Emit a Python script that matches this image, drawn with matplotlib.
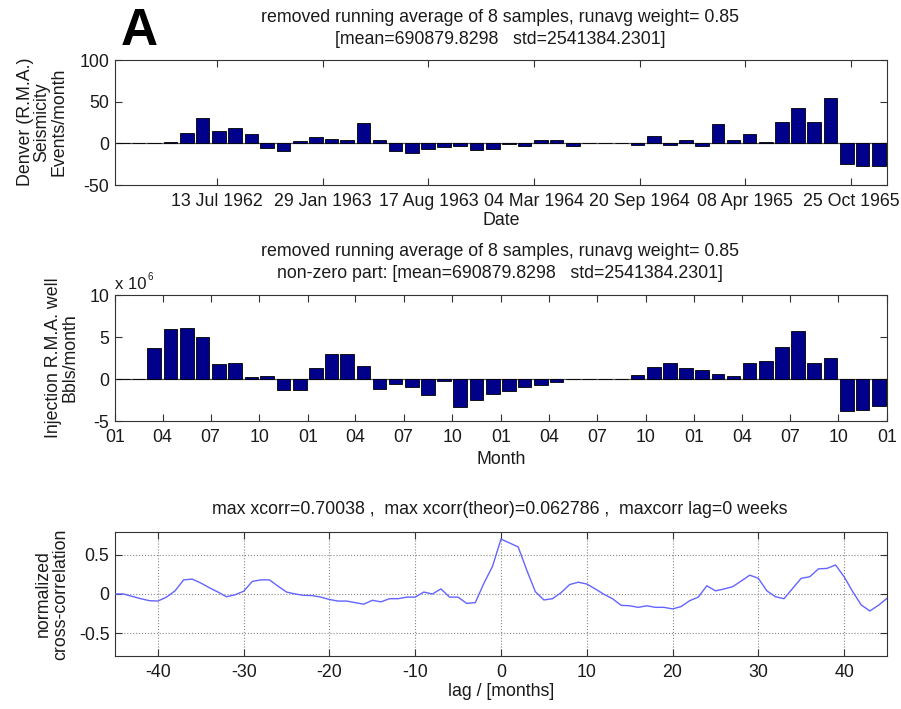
import numpy as np
import pandas as pd
import matplotlib
matplotlib.use("Agg")
import matplotlib.pyplot as plt
import matplotlib.dates as mdates

plt.rcParams['font.family'] = ['Liberation Sans', 'DejaVu Sans']
plt.rcParams['axes.unicode_minus'] = False

# ---------------- data ----------------
month_starts = pd.date_range("1962-01-01", "1966-01-01", freq="MS")  # 49 edges -> 48 months

seismicity = [0, 0, 0, 2, 12.4, 30.4, 14.8, 18, 10.8, -6, -9.6, 3.2,
              7.2, 5.2, 4.4, 24.4, 3.6, -9.6, -11.2, -7.2, -4.8, -2.8, -8, -7.2,
              -1, -3.6, 3.6, 4.4, -3.6, 0.5, 0.5, 0.5, -2.4, 8.4, -2.4, 3.6,
              -3.6, 23.2, 3.6, 10.8, 1.6, 25.2, 42.8, 25.2, 54, -24.8, -27.6, -26.8]

injection = [0, 0, 3.65, 5.9, 6.07, 5.04, 1.75, 1.9, 0.24, 0.36, -1.27, -1.27,
             1.35, 3.0, 3.0, 1.55, -1.19, -0.56, -1.0, -1.94, -0.24, -3.33, -2.46, -1.83,
             -1.43, -1.0, -0.67, -0.36, 0, 0, 0, 0, 0.48, 1.43, 1.9, 1.35,
             1.11, 0.63, 0.4, 1.94, 2.14, 3.85, 5.71, 1.87, 2.5, -3.8, -3.7, -3.25]  # x 10^6

top_tick_dates = ["1962-07-13", "1963-01-29", "1963-08-17", "1964-03-04",
                  "1964-09-20", "1965-04-08", "1965-10-25"]
top_tick_labels = ["13 Jul 1962", "29 Jan 1963", "17 Aug 1963", "04 Mar 1964",
                   "20 Sep 1964", "08 Apr 1965", "25 Oct 1965"]

lags = list(range(-45, 46))
xcorr = [0, 0, -0.03, -0.06, -0.085, -0.09, -0.04, 0.04, 0.18, 0.19,
         0.14, 0.08, 0.025, -0.035, -0.01, 0.035, 0.16, 0.18, 0.18, 0.10,
         0.025, 0, -0.017, -0.02, -0.04, -0.07, -0.09, -0.09, -0.11, -0.13,
         -0.08, -0.1, -0.06, -0.06, -0.04, -0.04, 0.025, 0, 0.065, -0.04,
         -0.04, -0.12, -0.11, 0.135, 0.35, 0.70,
         0.65, 0.60, 0.305, 0.03, -0.076, -0.06, 0.017, 0.12, 0.15, 0.127,
         0.064, -0.004, -0.06, -0.144, -0.15, -0.17, -0.15, -0.17, -0.17, -0.19,
         -0.16, -0.085, -0.04, 0.105, 0.04, 0.064, 0.093, 0.165, 0.24, 0.2,
         0.04, -0.035, -0.06, 0.072, 0.2, 0.22, 0.32, 0.326, 0.37, 0.22,
         0.03, -0.14, -0.216, -0.144, -0.055]

# ---------------- geometry helpers ----------------
starts = mdates.date2num(month_starts[:-1])
ends = mdates.date2num(month_starts[1:])
centers = (starts + ends) / 2
widths = (ends - starts) * 0.85
x0 = mdates.date2num(pd.Timestamp("1962-01-01"))
x1 = mdates.date2num(pd.Timestamp("1966-01-01"))

FS = 12.8
BAR_C = '#00008b'
SPINE_C = '#333333'
TXT_C = '#1a1a1a'

fig = plt.figure(figsize=(9.01, 7.09), dpi=100)
W, H = 901, 709
def axrect(l, t, r, b):
    return [l / W, (H - b) / H, (r - l) / W, (b - t) / H]

def ftext(x, y, s, **kw):
    kw.setdefault('fontsize', FS)
    kw.setdefault('ha', 'center')
    kw.setdefault('va', 'center')
    kw.setdefault('color', TXT_C)
    return fig.text(x / W, 1 - y / H, s, **kw)

def style(ax):
    for s in ax.spines.values():
        s.set_color(SPINE_C)
        s.set_linewidth(0.8)
    ax.tick_params(direction='in', length=5, width=0.8, color=SPINE_C,
                   top=True, right=True, labelsize=FS, labelcolor=TXT_C)
    ax.tick_params(axis='x', pad=6)
    ax.tick_params(axis='y', pad=4)

# ---------------- top panel ----------------
ax1 = fig.add_axes(axrect(115, 60, 887, 185))
ax1.bar(centers, seismicity, width=widths, color=BAR_C, edgecolor='black', linewidth=0.6, zorder=3)
ax1.axhline(0, color='#555555', linewidth=0.9, zorder=2)
ax1.set_xlim(x0, x1)
ax1.set_ylim(-50, 100)
ax1.set_yticks([-50, 0, 50, 100])
ax1.set_xticks(mdates.date2num(pd.to_datetime(top_tick_dates)))
ax1.set_xticklabels(top_tick_labels)
style(ax1)
ftext(501, 221, "Date")
ftext(42, 122, "Denver (R.M.A.)\nSeismicity\nEvents/month", rotation=90,
      linespacing=0.98, multialignment='center')
ftext(500, 17, "removed running average of 8 samples, runavg weight= 0.85")
ftext(500, 40, "[mean=690879.8298   std=2541384.2301]")
fig.text(121 / W, 1 - 45 / H, "A", fontsize=37, fontweight='bold', ha='left', va='baseline')

# ---------------- middle panel ----------------
ax2 = fig.add_axes(axrect(115, 295, 887, 421))
ax2.bar(centers, injection, width=widths, color=BAR_C, edgecolor='black', linewidth=0.6, zorder=3)
ax2.axhline(0, color='#555555', linewidth=0.9, zorder=2)
ax2.set_xlim(x0, x1)
ax2.set_ylim(-5, 10)
ax2.set_yticks([-5, 0, 5, 10])
ax2.xaxis.set_major_locator(mdates.MonthLocator(bymonth=[1, 4, 7, 10]))
ax2.xaxis.set_major_formatter(mdates.DateFormatter('%m'))
style(ax2)
ftext(501, 460, "Month")
ftext(62, 358, "Injection R.M.A. well\nBbls/month", rotation=90,
      linespacing=0.98, multialignment='center')
ftext(500, 252, "removed running average of 8 samples, runavg weight= 0.85")
ftext(500, 273, "non-zero part: [mean=690879.8298   std=2541384.2301]")
ftext(115, 284, "x 10", ha='left', fontsize=12)
ftext(148, 277, "6", ha='left', fontsize=7)

# ---------------- bottom panel ----------------
ax3 = fig.add_axes(axrect(115, 532, 887, 656))
ax3.plot(lags, xcorr, color='#6464ff', linewidth=1.0, zorder=3)
ax3.set_xlim(-45, 45)
ax3.set_ylim(-0.79, 0.79)
ax3.set_xticks([-40, -30, -20, -10, 0, 10, 20, 30, 40])
ax3.set_yticks([-0.5, 0, 0.5])
ax3.set_yticklabels(["-0.5", "0", "0.5"])
ax3.grid(True, linestyle=':', color='#888888', linewidth=0.8)
style(ax3)
ftext(501, 692, "lag / [months]")
ftext(52, 594, "normalized\ncross-correlation", rotation=90,
      linespacing=0.98, multialignment='center')
ftext(500, 510, "max xcorr=0.70038 ,  max xcorr(theor)=0.062786 ,  maxcorr lag=0 weeks")

fig.savefig("out.png", dpi=100)
